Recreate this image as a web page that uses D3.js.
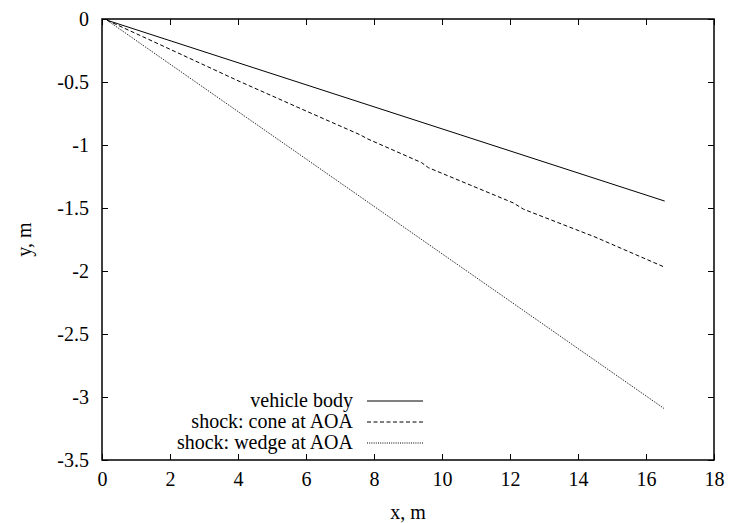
<!DOCTYPE html>
<html>
<head>
    <script src="https://d3js.org/d3.v7.min.js"></script>
    <style>
        body { margin: 0; background: #fff; }
    </style>
</head>
<body>
    <svg width="729" height="523"></svg>
    <script>
        // Données
        const bodyX = [0.15, 16.55];
        const bodyY = [-0.01, -1.445];

        const coneX = [0.15, 2, 4, 6, 7.6, 7.8, 9.4, 9.6, 12.1, 12.4, 14.5, 16.55];
        const coneY = [-0.01, -0.24, -0.49, -0.73, -0.92, -0.95, -1.14, -1.18, -1.46, -1.51, -1.73, -1.97];

        const wedgeX = [0.15, 16.55];
        const wedgeY = [-0.01, -3.095];

        const xTicks = [0, 2, 4, 6, 8, 10, 12, 14, 16, 18];
        const yTicks = [0, -0.5, -1, -1.5, -2, -2.5, -3, -3.5];

        const seriesNames = ["vehicle body", "shock: cone at AOA", "shock: wedge at AOA"];
        const seriesDash = [null, "4,2.5", "1,1.2"];

        // Mise en page
        const mLeft = 102, mRight = 714, mTop = 19, mBottom = 460;
        const svg = d3.select("svg");
        const x = d3.scaleLinear().domain([0, 18]).range([mLeft, mRight]);
        const y = d3.scaleLinear().domain([-3.5, 0]).range([mBottom, mTop]);

        const fs = 20;
        const font = "'Liberation Serif', 'DejaVu Serif'";

        // Axes (ticks vers l'intérieur, miroir)
        svg.append("g").attr("transform", `translate(0,${mBottom})`)
            .call(d3.axisBottom(x).tickValues(xTicks).tickSizeInner(-6).tickSizeOuter(0).tickPadding(12).tickFormat(d => String(d)))
            .call(g => g.select(".domain").remove());
        svg.append("g").attr("transform", `translate(0,${mTop})`)
            .call(d3.axisTop(x).tickValues(xTicks).tickSizeInner(-6).tickSizeOuter(0).tickFormat(""))
            .call(g => g.select(".domain").remove());
        svg.append("g").attr("transform", `translate(${mLeft},0)`)
            .call(d3.axisLeft(y).tickValues(yTicks).tickSizeInner(-6).tickSizeOuter(0).tickPadding(13).tickFormat(d => String(d)))
            .call(g => g.select(".domain").remove());
        svg.append("g").attr("transform", `translate(${mRight},0)`)
            .call(d3.axisRight(y).tickValues(yTicks).tickSizeInner(-6).tickSizeOuter(0).tickFormat(""))
            .call(g => g.select(".domain").remove());

        svg.selectAll("g").attr("font-family", font).attr("font-size", fs);
        svg.selectAll(".tick line").attr("stroke", "#000").attr("stroke-width", 1);

        svg.append("rect")
            .attr("x", mLeft).attr("y", mTop)
            .attr("width", mRight - mLeft).attr("height", mBottom - mTop)
            .attr("fill", "none").attr("stroke", "#000").attr("stroke-width", 1.5);

        // Titres des axes
        svg.append("text")
            .attr("x", (mLeft + mRight) / 2).attr("y", 519)
            .attr("text-anchor", "middle").attr("font-size", fs).attr("font-family", font)
            .text("x, m");
        svg.append("text")
            .attr("transform", `translate(31,${(mTop + mBottom) / 2}) rotate(-90)`)
            .attr("text-anchor", "middle").attr("font-size", fs).attr("font-family", font)
            .text("y, m");

        // Courbes
        const line = d3.line().x(d => x(d[0])).y(d => y(d[1]));
        const series = [
            d3.zip(bodyX, bodyY),
            d3.zip(coneX, coneY),
            d3.zip(wedgeX, wedgeY)
        ];
        series.forEach((s, i) => {
            svg.append("path")
                .datum(s)
                .attr("d", line)
                .attr("fill", "none")
                .attr("stroke", "#000")
                .attr("stroke-width", 1)
                .attr("stroke-dasharray", seriesDash[i]);
        });

        // Légende
        const legY = [401, 422, 443];
        seriesNames.forEach((name, i) => {
            svg.append("text")
                .attr("x", 353).attr("y", legY[i] + 6)
                .attr("text-anchor", "end").attr("font-size", fs).attr("font-family", font)
                .text(name);
            svg.append("line")
                .attr("x1", 367).attr("x2", 423)
                .attr("y1", legY[i]).attr("y2", legY[i])
                .attr("stroke", "#000").attr("stroke-width", 1)
                .attr("stroke-dasharray", seriesDash[i]);
        });
    </script>
</body>
</html>
